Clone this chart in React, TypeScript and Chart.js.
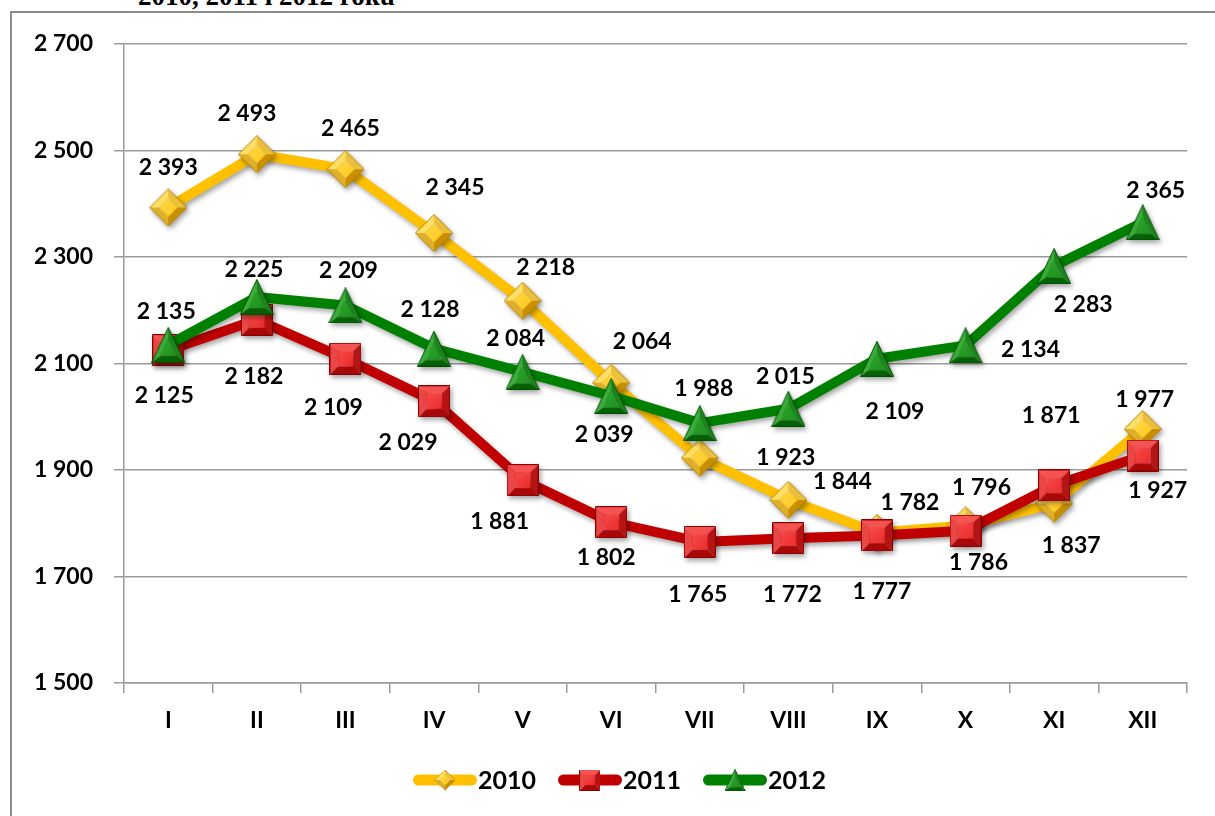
import React, { useEffect, useRef } from "react";
import { Chart, registerables } from "chart.js";

Chart.register(...registerables);

const months = ["I", "II", "III", "IV", "V", "VI", "VII", "VIII", "IX", "X", "XI", "XII"];
const seriesNames = ["2010", "2011", "2012"];
const values2010 = [2393, 2493, 2465, 2345, 2218, 2064, 1923, 1844, 1782, 1796, 1837, 1977];
const values2011 = [2125, 2182, 2109, 2029, 1881, 1802, 1765, 1772, 1777, 1786, 1871, 1927];
const values2012 = [2135, 2225, 2209, 2128, 2084, 2039, 1988, 2015, 2109, 2134, 2283, 2365];
const yMin = 1500;
const yMax = 2700;
const yStep = 200;
const titleText = "2010, 2011 i 2012 roku";

// label placement (offset of label centre from the point), styling only
const labelOffsets2010 = [[0, -40], [-10, -41], [5, -41], [21, -45], [23, -33], [31, -41], [86, 0], [54, -18], [33, -30], [16, -38], [17, 42], [2, -29]];
const labelOffsets2011 = [[-4, 45], [-3, 57], [-12, 49], [-26, 41], [-23, 41], [-5, 35], [-2, 53], [4, 56], [5, 56], [13, 32], [-3, -70], [15, 35]];
const labelOffsets2012 = [[-2, -33], [-3, -27], [3, -35], [-4, -39], [-7, -33], [-7, 39], [4, -35], [-3, -32], [18, 53], [65, 4], [29, 39], [13, -32]];

const FONT = "Lato, 'Open Sans', sans-serif";
const GRID = "#9a9a9a";

function fmt(n: number): string {
  const s = String(Math.round(n));
  return s.length > 3 ? s.slice(0, -3) + " " + s.slice(-3) : s;
}

function hexToRgb(h: string): number[] {
  const v = h.replace("#", "");
  return [parseInt(v.slice(0, 2), 16), parseInt(v.slice(2, 4), 16), parseInt(v.slice(4, 6), 16)];
}
function mix(a: string, b: string, t: number): string {
  const A = hexToRgb(a), B = hexToRgb(b);
  const c = A.map((x, i) => Math.round(x + (B[i] - x) * t));
  return `rgb(${c[0]},${c[1]},${c[2]})`;
}

type Pal = { base: string; light: string; dark: string; edge: string };

function makeMarker(kind: string, w: number, h: number, pal: Pal): HTMLCanvasElement {
  const cv = document.createElement("canvas");
  cv.width = w;
  cv.height = h;
  const ctx = cv.getContext("2d")!;
  let outer: number[][];
  let cx = w / 2, cy = h / 2;
  if (kind === "diamond") outer = [[w / 2, 0.5], [w - 0.5, h / 2], [w / 2, h - 0.5], [0.5, h / 2]];
  else if (kind === "square") outer = [[0.5, 0.5], [w - 0.5, 0.5], [w - 0.5, h - 0.5], [0.5, h - 0.5]];
  else {
    outer = [[w / 2, 0.5], [w - 0.5, h - 0.5], [0.5, h - 0.5]];
    cy = h * 0.64;
  }
  const k = 0.5;
  const inner = outer.map((p) => [cx + (p[0] - cx) * k, cy + (p[1] - cy) * k]);
  const L = [-0.55, -0.83];
  for (let i = 0; i < outer.length; i++) {
    const j = (i + 1) % outer.length;
    const mx = (outer[i][0] + outer[j][0]) / 2 - cx;
    const my = (outer[i][1] + outer[j][1]) / 2 - cy;
    const len = Math.hypot(mx, my) || 1;
    const t = ((mx / len) * L[0] + (my / len) * L[1] + 1) / 2;
    ctx.beginPath();
    ctx.moveTo(outer[i][0], outer[i][1]);
    ctx.lineTo(outer[j][0], outer[j][1]);
    ctx.lineTo(inner[j][0], inner[j][1]);
    ctx.lineTo(inner[i][0], inner[i][1]);
    ctx.closePath();
    ctx.fillStyle = mix(pal.dark, pal.light, t);
    ctx.fill();
  }
  ctx.beginPath();
  inner.forEach((p, i) => (i ? ctx.lineTo(p[0], p[1]) : ctx.moveTo(p[0], p[1])));
  ctx.closePath();
  const g = ctx.createLinearGradient(0, 0, w, h);
  g.addColorStop(0, pal.light);
  g.addColorStop(1, pal.base);
  ctx.fillStyle = g;
  ctx.fill();
  ctx.beginPath();
  outer.forEach((p, i) => (i ? ctx.lineTo(p[0], p[1]) : ctx.moveTo(p[0], p[1])));
  ctx.closePath();
  ctx.strokeStyle = pal.edge;
  ctx.lineWidth = 1;
  ctx.stroke();
  return cv;
}

export default function App() {
  const ref = useRef<HTMLCanvasElement>(null);

  useEffect(() => {
    const canvas = ref.current;
    if (!canvas) return;
    const diamond = makeMarker("diamond", 38, 38, { base: "#FFC000", light: "#FFE066", dark: "#C98E00", edge: "#B88200" });
    const square = makeMarker("square", 32, 32, { base: "#E41C1C", light: "#FF5A5A", dark: "#A00000", edge: "#8A0000" });
    const triangle = makeMarker("triangle", 34, 36, { base: "#138A13", light: "#3DB03D", dark: "#005A00", edge: "#004F00" });
    const markers = [diamond, square, triangle];
    const lineColors = ["#FFC000", "#C00000", "#008000"];
    const allValues = [values2010, values2011, values2012];
    const allOffsets = [labelOffsets2010, labelOffsets2011, labelOffsets2012];

    const shadowPlugin = {
      id: "shadow",
      beforeDatasetDraw(chart: any) {
        const c = chart.ctx;
        c.save();
        c.shadowColor = "rgba(0,0,0,0.35)";
        c.shadowBlur = 5;
        c.shadowOffsetX = 2;
        c.shadowOffsetY = 3;
      },
      afterDatasetDraw(chart: any) {
        chart.ctx.restore();
      },
    };

    const labelPlugin = {
      id: "labels",
      afterDatasetsDraw(chart: any) {
        const c = chart.ctx;
        c.save();
        c.font = `bold 23px ${FONT}`;
        c.fillStyle = "#000";
        c.textAlign = "center";
        c.textBaseline = "middle";
        chart.data.datasets.forEach((ds: any, di: number) => {
          const meta = chart.getDatasetMeta(di);
          meta.data.forEach((pt: any, i: number) => {
            const off = allOffsets[di][i];
            c.fillText(fmt(ds.data[i]), pt.x + off[0], pt.y + off[1]);
          });
        });
        c.restore();
      },
    };

    const legendPlugin = {
      id: "customLegend",
      afterDraw(chart: any) {
        const c = chart.ctx;
        c.save();
        c.font = `bold 25px ${FONT}`;
        const sample = 64;
        const gap = 23;
        const widths = seriesNames.map((n) => sample + c.measureText(n).width);
        const total = widths.reduce((a, b) => a + b, 0) + gap * (seriesNames.length - 1);
        let x = 619 - total / 2;
        const y = 780;
        seriesNames.forEach((n, i) => {
          c.beginPath();
          c.lineCap = "round";
          c.lineWidth = 11;
          c.strokeStyle = lineColors[i];
          c.moveTo(x + 5.5, y);
          c.lineTo(x + sample - 5.5, y);
          c.stroke();
          const m = markers[i];
          const mw = 21;
          const mh = (21 * m.height) / m.width;
          c.drawImage(m, x + sample / 2 - mw / 2, y - mh / 2, mw, mh);
          c.fillStyle = "#000";
          c.textAlign = "left";
          c.textBaseline = "middle";
          c.fillText(n, x + sample + 1, y + 1);
          x += widths[i] + gap;
        });
        c.restore();
      },
    };

    const chart = new Chart(canvas, {
      type: "line",
      data: {
        labels: months,
        datasets: allValues.map((vals, i) => ({
          label: seriesNames[i],
          data: vals,
          borderColor: lineColors[i],
          backgroundColor: lineColors[i],
          borderWidth: 10,
          borderJoinStyle: "round",
          borderCapStyle: "round",
          tension: 0,
          pointStyle: markers[i],
          pointRadius: 18,
          pointHoverRadius: 18,
          clip: false,
          order: 2 - i,
        })) as any,
      },
      options: {
        responsive: false,
        animation: false,
        events: [],
        layout: { padding: { top: 44, right: 20, left: 0, bottom: 0 } },
        plugins: { legend: { display: false }, tooltip: { enabled: false }, title: { display: false } },
        scales: {
          x: {
            offset: true,
            grid: { offset: true, drawOnChartArea: false, drawTicks: true, tickLength: 10, color: GRID, lineWidth: 1.5 },
            border: { display: true, color: GRID, width: 1.5 },
            ticks: { color: "#000", padding: 14, font: { family: FONT, size: 23, weight: "bold" } },
            afterFit: (s: any) => {
              s.height = 133;
            },
          },
          y: {
            min: yMin,
            max: yMax,
            grid: { color: GRID, lineWidth: 1.5, tickLength: 10, drawTicks: true },
            border: { display: true, color: GRID, width: 1.5 },
            ticks: {
              stepSize: yStep,
              color: "#000",
              padding: 21,
              font: { family: FONT, size: 23, weight: "bold" },
              callback: (v: any) => fmt(Number(v)),
            },
            afterFit: (s: any) => {
              s.width = 124;
            },
          },
        },
      } as any,
      plugins: [shadowPlugin, labelPlugin, legendPlugin],
    });
    return () => chart.destroy();
  }, []);

  return (
    <div style={{ position: "fixed", left: 0, top: 0, width: 1215, height: 816, overflow: "hidden", background: "#fff" }}>
      <div
        style={{
          position: "absolute",
          left: 138,
          top: -19,
          fontFamily: "'Liberation Serif', 'Times New Roman', serif",
          fontWeight: "bold",
          fontSize: 27,
          lineHeight: "normal",
          whiteSpace: "nowrap",
          color: "#000",
        }}
      >
        {titleText}
      </div>
      <div
        style={{
          position: "absolute",
          left: 10,
          top: 11,
          width: 1400,
          height: 1000,
          border: "2px solid #8c8c8c",
          boxSizing: "border-box",
        }}
      />
      <canvas ref={ref} width={1215} height={816} style={{ position: "absolute", left: 0, top: 0 }} />
    </div>
  );
}
